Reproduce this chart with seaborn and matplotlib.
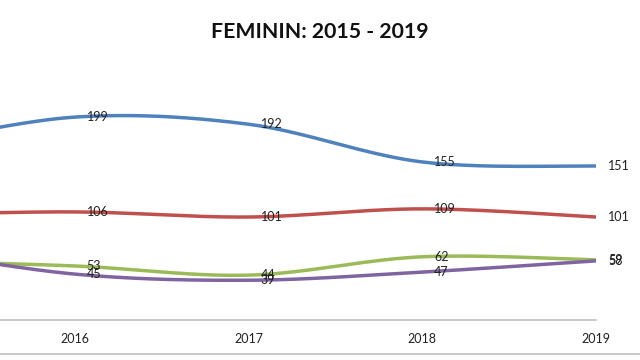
import numpy as np
import pandas as pd
import matplotlib
matplotlib.use("Agg")
import matplotlib.pyplot as plt
import seaborn as sns

years = [2015, 2016, 2017, 2018, 2019]
serie_1 = [170, 199, 192, 155, 151]   # blue
serie_2 = [103, 106, 101, 109, 101]   # red
serie_3 = [58, 53, 44, 62, 59]        # green
serie_4 = [70, 45, 39, 47, 58]        # purple
series = {"Serie 1": serie_1, "Serie 2": serie_2, "Serie 3": serie_3, "Serie 4": serie_4}
colors = ["#4F81BD", "#C0504D", "#9BBB59", "#8064A2"]


def smooth(xs, ys, n=40):
    # Excel style smoothed line (Catmull-Rom drawn as cubic Bezier)
    p = np.column_stack([xs, ys]).astype(float)
    p = np.vstack([p[0], p, p[-1]])
    out = []
    t = np.linspace(0, 1, n)[:, None]
    for i in range(1, len(p) - 2):
        b0 = p[i]
        b1 = p[i] + (p[i + 1] - p[i - 1]) / 6
        b2 = p[i + 1] - (p[i + 2] - p[i]) / 6
        b3 = p[i + 1]
        seg = (1 - t) ** 3 * b0 + 3 * (1 - t) ** 2 * t * b1 + 3 * (1 - t) * t ** 2 * b2 + t ** 3 * b3
        out.append(seg if i == 1 else seg[1:])
    return np.vstack(out)


rows = []
for name, vals in series.items():
    c = smooth(years, vals)
    rows.append(pd.DataFrame({"x": c[:, 0], "y": c[:, 1], "serie": name, "k": range(len(c))}))
df = pd.concat(rows, ignore_index=True)

sns.set_theme(style="white")
plt.rcParams["font.family"] = ["Lato", "DejaVu Sans"]

fig = plt.figure(figsize=(6.4, 3.6), dpi=100)
ax = fig.add_axes([0, 40 / 360, 596 / 640, 260 / 360])

sns.lineplot(data=df, x="x", y="y", hue="serie", palette=colors, sort=False,
             estimator=None, units="serie", linewidth=2.5, legend=False, ax=ax)

# data labels to the right of each point, like Excel
for (name, vals), col in zip(series.items(), colors):
    for yr, v in zip(years, vals):
        if yr < 2016:
            continue
        ax.annotate(str(v), (yr, v), xytext=(8.6, 0), textcoords="offset points",
                    ha="left", va="center", fontsize=9, color="#222222",
                    annotation_clip=False)

ax.set_xlim(2016 - 75 / 174, 2019)
ax.set_ylim(0, 255)
ax.set_xticks(years[1:])
ax.set_xticklabels([str(y) for y in years[1:]])
ax.set_yticks([])
ax.set_xlabel("")
ax.set_ylabel("")
ax.tick_params(axis="x", length=0, pad=9.5, labelsize=9, labelcolor="#222222")
for s in ["top", "right", "left"]:
    ax.spines[s].set_visible(False)
ax.spines["bottom"].set_color("#bfbfbf")
ax.spines["bottom"].set_linewidth(1.2)

fig.text(0.5, 1 - 32 / 360, "FEMININ: 2015 - 2019", ha="center", va="center",
         fontsize=15.3, fontweight="bold", color="#111111")
fig.add_artist(plt.Line2D([0, 1], [6 / 360, 6 / 360], color="#bfbfbf", linewidth=1.2))

fig.savefig("out.png", dpi=100)
